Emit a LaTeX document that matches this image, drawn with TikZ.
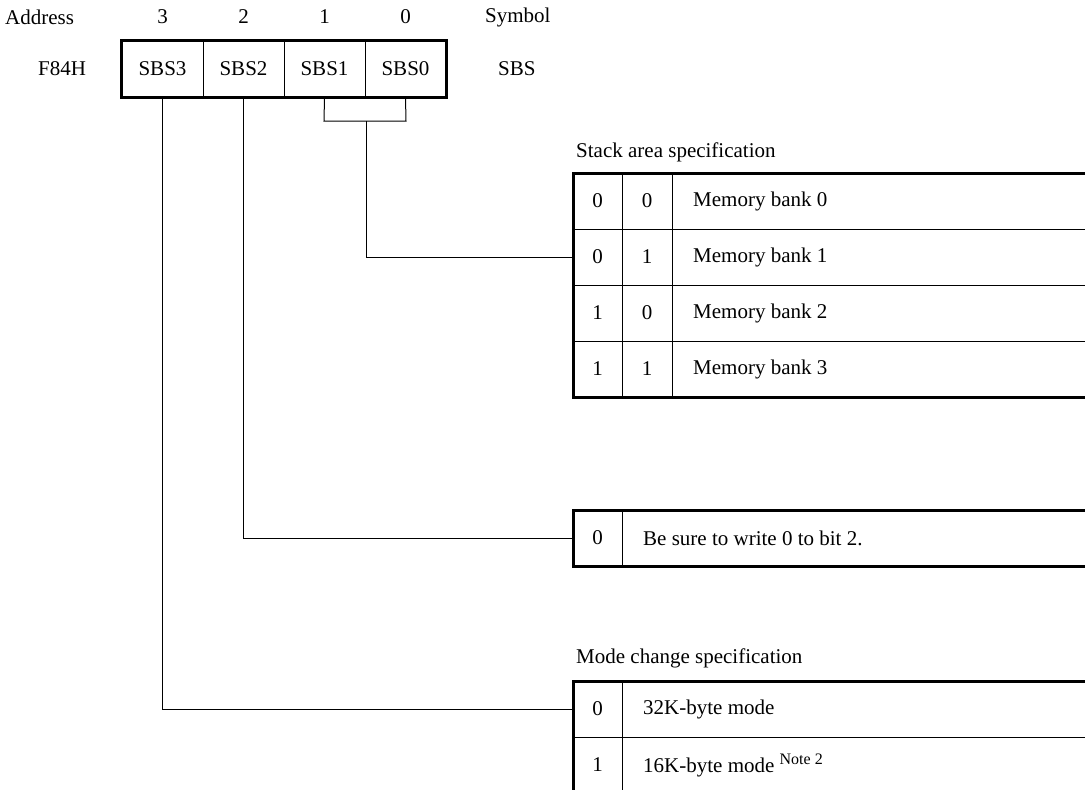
\documentclass[tikz,border=0pt]{standalone}
\usepackage{fontspec}
\setmainfont{Liberation Serif}
\begin{document}
\begin{tikzpicture}[x=1pt,y=-1pt,
  txt/.style={font=\fontsize{21}{25}\selectfont, inner sep=0pt},
  regcell/.style={txt, draw, line width=1pt, minimum width=81pt, minimum height=56pt},
  bitcell/.style={txt, minimum width=49pt, minimum height=56pt},
  desc/.style={txt, anchor=west},
  thin/.style={line width=1pt},
  thickb/.style={line width=3pt},
  conn/.style={line width=1pt}]
\useasboundingbox (0,0) rectangle (1085,790);
\clip (0,0) rectangle (1085,790);
\fill[white] (0,0) rectangle (1085,790);

% header row
\node[txt, anchor=west] (haddr) at (5,17) {Address};
\node[txt] (h3) at (162.5,17) {3};
\node[txt] (h2) at (243.5,17) {2};
\node[txt] (h1) at (324.5,17) {1};
\node[txt] (h0) at (405.5,17) {0};
\node[txt, anchor=west] (hsym) at (485,17) {Symbol};

% register row
\node[txt] (addr) at (62,69) {F84H};
\node[regcell] (sbs3) at (162.5,69) {SBS3};
\node[regcell] (sbs2) at (243.5,69) {SBS2};
\node[regcell] (sbs1) at (324.5,69) {SBS1};
\node[regcell] (sbs0) at (405.5,69) {SBS0};
\draw[thickb] (sbs3.north west) rectangle (sbs0.south east);
\node[txt, anchor=west] (sym) at (498,69) {SBS};

% stack area table
\node[txt, anchor=west] (t1) at (576,152) {Stack area specification};
\draw[thin] (573,229) -- (1100,229) (573,285) -- (1100,285) (573,341) -- (1100,341);
\draw[thin] (622,173) -- (622,397) (672,173) -- (672,397);
\draw[thickb] (573,173) rectangle (1100,397);
\node[bitcell] (s0a) at (597.5,201) {0};
\node[bitcell] (s0b) at (647,201) {0};
\node[desc] (s0d) at (693,201) {Memory bank 0};
\node[bitcell] (s1a) at (597.5,257) {0};
\node[bitcell] (s1b) at (647,257) {1};
\node[desc] (s1d) at (693,257) {Memory bank 1};
\node[bitcell] (s2a) at (597.5,313) {1};
\node[bitcell] (s2b) at (647,313) {0};
\node[desc] (s2d) at (693,313) {Memory bank 2};
\node[bitcell] (s3a) at (597.5,369) {1};
\node[bitcell] (s3b) at (647,369) {1};
\node[desc] (s3d) at (693,369) {Memory bank 3};

% bit 2 table
\draw[thin] (622,510) -- (622,566);
\draw[thickb] (573,510) rectangle (1100,566);
\node[bitcell] (b0a) at (597.5,538) {0};
\node[desc] (b0d) at (643,538) {Be sure to write 0 to bit 2.};

% mode change table
\node[txt, anchor=west] (t3) at (576,658) {Mode change specification};
\draw[thin] (573,737) -- (1100,737) (622,681) -- (622,810);
\draw[thickb] (573,681) rectangle (1100,810);
\node[bitcell] (m0a) at (597.5,709) {0};
\node[desc] (m0d) at (643,709) {32K-byte mode};
\node[bitcell] (m1a) at (597.5,765) {1};
\node[desc] (m1d) at (643,765) {16K-byte mode \raisebox{8pt}{\fontsize{16}{18}\selectfont Note 2}};

% connectors
\draw[conn] (sbs1.south) -- (324,121) -- (406,121) -- (sbs0.south);
\coordinate (br) at (366,121);
\draw[conn] (br) |- (s1a.west);
\draw[conn] (sbs2.south) |- (b0a.west);
\draw[conn] (sbs3.south) |- (m0a.west);
\end{tikzpicture}
\end{document}
